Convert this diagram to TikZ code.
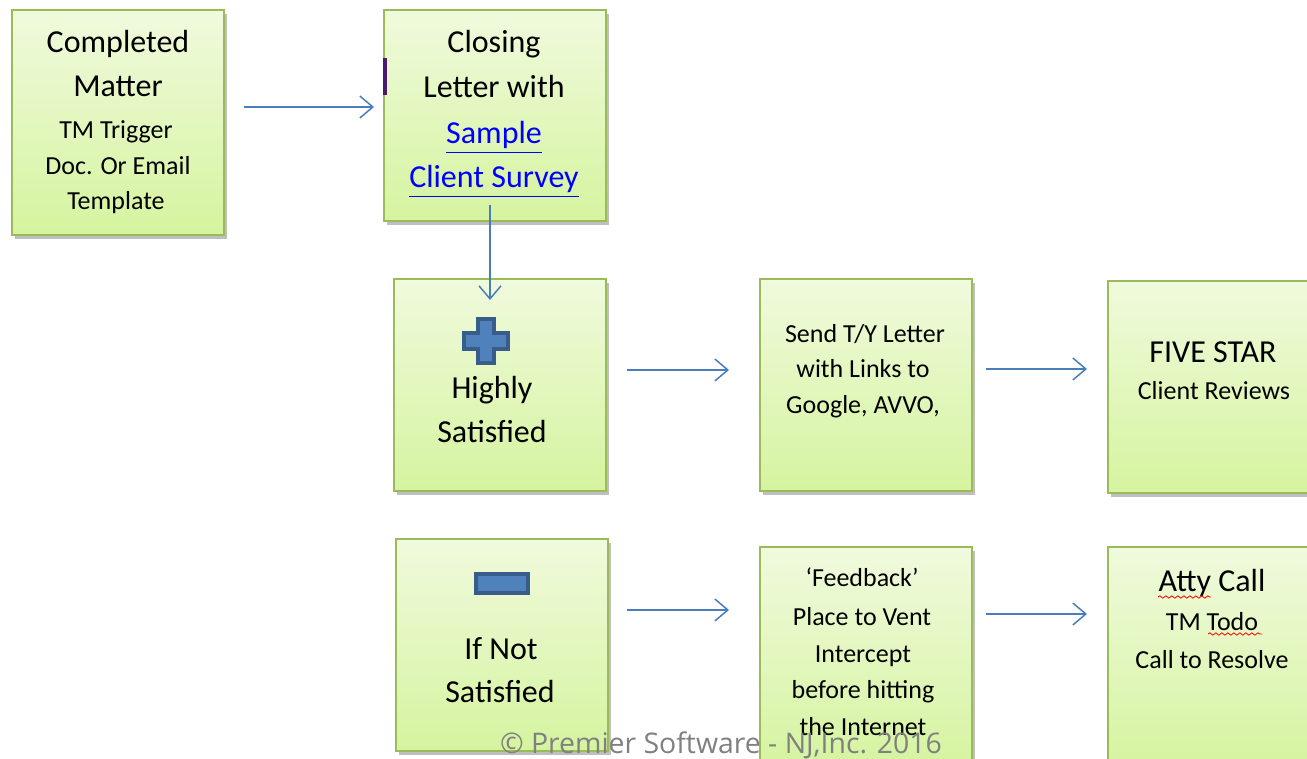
\documentclass[tikz,border=0pt]{standalone}
\usepackage{fontspec}
\setmainfont{Carlito}
\newfontfamily\copyfont{Open Sans}
\usetikzlibrary{arrows.meta,shadows,fit,decorations.pathmorphing}
\definecolor{boxtop}{HTML}{F0FADD}
\definecolor{boxbot}{HTML}{D5F49F}
\definecolor{boxline}{HTML}{9BBB59}
\definecolor{arrblue}{HTML}{4A7EBB}
\definecolor{iconfill}{HTML}{4F81BD}
\definecolor{iconline}{HTML}{385D8A}
\definecolor{linkblue}{HTML}{0000FF}
\definecolor{cursorpurple}{HTML}{4B1A6E}
\definecolor{copygray}{HTML}{808080}
\tikzset{
  flowbox/.style={draw=boxline, line width=0.9pt, top color=boxtop, bottom color=boxbot,
    inner sep=0pt, drop shadow={shadow xshift=1.5pt, shadow yshift=-1.8pt, fill=black, opacity=0.25}},
  bigtxt/.style={anchor=base, inner sep=0pt, font=\fontsize{16}{19}\selectfont},
  smalltxt/.style={anchor=base, inner sep=0pt, font=\fontsize{13}{16}\selectfont},
  linktxt/.style={bigtxt, text=linkblue},
  arr/.style={draw=arrblue, line width=0.75pt, -{Straight Barb[length=6.5pt,width=11pt,line width=0.75pt]}},
  iconshape/.style={fill=iconfill, draw=iconline, line width=1.6pt},
  spell/.style={draw=red, line width=0.4pt, decorate, decoration={snake, amplitude=0.6pt, segment length=3pt}}
}
\begin{document}
\begin{tikzpicture}[x=0.5pt,y=-0.5pt]
\useasboundingbox (0,0) rectangle (1307,759);
\clip (0,0) rectangle (1307,759);
% boxes
\node[flowbox, fit={(12,10) (224,235)}] (b1) {};
\node[flowbox, fit={(384,10) (606,221)}] (b2) {};
\node[flowbox, fit={(394,279) (606,491)}] (b3) {};
\node[flowbox, fit={(760,279) (972,491)}] (b4) {};
\node[flowbox, fit={(1108,281) (1320,493)}] (b5) {};
\node[flowbox, fit={(396,539) (608,751)}] (b6) {};
\node[flowbox, fit={(760,547) (972,770)}] (b7) {};
\node[flowbox, fit={(1108,547) (1320,770)}] (b8) {};
% box 1 text
\node[bigtxt] (t1a) at (118,53) {Completed};
\node[bigtxt] (t1b) at (118,97) {Matter};
\node[smalltxt] (t1c) at (116,139) {TM Trigger};
\node[smalltxt] (t1d) at (118,175) {Doc. Or Email};
\node[smalltxt] (t1e) at (116,210) {Template};
% box 2 text
\node[bigtxt] (t2a) at (494,53) {Closing};
\node[bigtxt] (t2b) at (494,98) {Letter with};
\node[linktxt] (t2c) at (494,144) {\underline{Sample}};
\node[linktxt] (t2d) at (494,188) {\underline{Client Survey}};
\fill[cursorpurple] (383,58) rectangle (387,95);
% box 3
\path[iconshape] (478,319) -- (494,319) -- (494,333) -- (508,333) -- (508,349) -- (494,349)
  -- (494,363) -- (478,363) -- (478,349) -- (464,349) -- (464,333) -- (478,333) -- cycle;
\node[bigtxt] (t3a) at (492,398) {Highly};
\node[bigtxt] (t3b) at (492,442) {Satisfied};
% box 4
\node[smalltxt] (t4a) at (865,343) {Send T/Y Letter};
\node[smalltxt] (t4b) at (863,378) {with Links to};
\node[smalltxt] (t4c) at (863,413) {Google, AVVO,};
% box 5
\node[bigtxt] (t5a) at (1213,363) {FIVE STAR};
\node[smalltxt] (t5b) at (1214,400) {Client Reviews};
% box 6
\path[iconshape] (476,574) rectangle (528,593);
\node[bigtxt] (t6a) at (501,659) {If Not};
\node[bigtxt] (t6b) at (500,702) {Satisfied};
% box 7
\node[smalltxt] (t7a) at (862,586) {`Feedback'};
\node[smalltxt] (t7b) at (862,625) {Place to Vent};
\node[smalltxt] (t7c) at (863,662) {Intercept};
\node[smalltxt] (t7d) at (863,698) {before hitting};
\node[smalltxt] (t7e) at (863,735) {the Internet};
% box 8
\node[bigtxt] (t8a) at (1212,591) {Atty Call};
\node[smalltxt] (t8b) at (1212,630) {TM Todo};
\node[smalltxt] (t8c) at (1212,668) {Call to Resolve};
\draw[spell] (1158,597) -- (1211,597);
\draw[spell] (1208,634) -- (1262,634);
% arrows
\coordinate (a1s) at (244,107); \coordinate (a1e) at (374,107);
\coordinate (a2s) at (490,205); \coordinate (a2e) at (490,300);
\coordinate (a3s) at (627,370); \coordinate (a3e) at (729,370);
\coordinate (a4s) at (986,369); \coordinate (a4e) at (1087,369);
\coordinate (a5s) at (627,610); \coordinate (a5e) at (729,610);
\coordinate (a6s) at (986,614); \coordinate (a6e) at (1087,614);
\draw[arr] (a1s) -- (a1e);
\draw[arr] (a2s) -- (a2e);
\draw[arr] (a3s) -- (a3e);
\draw[arr] (a4s) -- (a4e);
\draw[arr] (a5s) -- (a5e);
\draw[arr] (a6s) -- (a6e);
% copyright
\node[anchor=base, inner sep=0pt, text=copygray, font=\copyfont\fontsize{14.2}{17}\selectfont] (copy) at (721,753) {© Premier Software - NJ,Inc. 2016};
\end{tikzpicture}
\end{document}
